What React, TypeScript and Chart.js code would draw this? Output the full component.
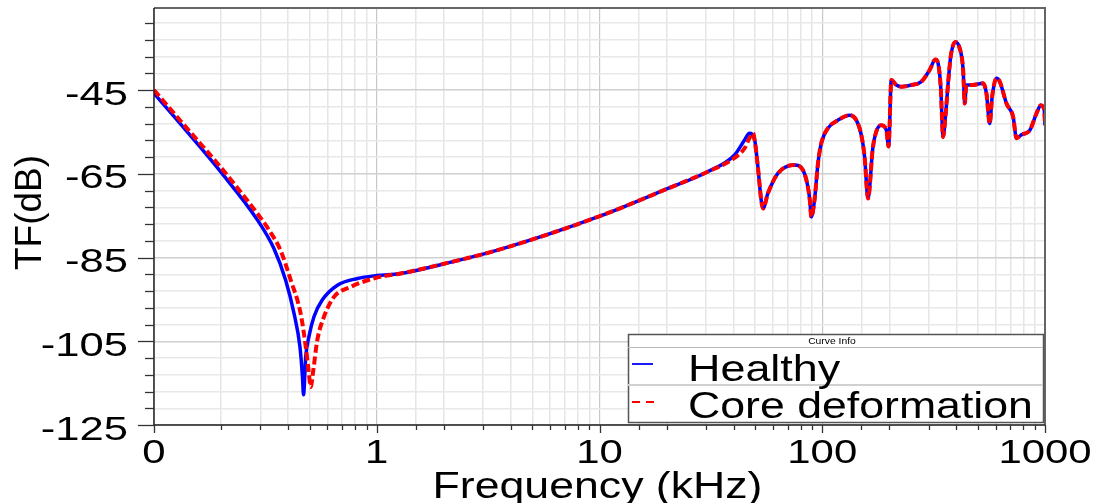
import React, { useEffect, useRef } from "react";
import { Chart, registerables } from "chart.js";

Chart.register(...registerables);

// ---------- data (frequency in kHz, transfer function in dB) ----------
const healthyStartFreq = [0.1, 0.141, 0.199, 0.291, 0.345, 0.39, 0.425, 0.452, 0.464, 0.469, 0.48, 0.496, 0.523, 0.57, 0.666, 0.819, 1.0, 1.28, 2.15, 3.61, 9.82, 20.3, 30.6, 40.4, 44.8, 47.1];
const healthyStartDb = [-45.8, -55.0, -64.5, -76.0, -82.8, -90.4, -98.3, -106.3, -113.5, -117.8, -108.7, -103.9, -99.1, -95.1, -91.6, -90.0, -89.3, -88.8, -86.1, -83.0, -75.3, -68.5, -64.5, -60.5, -56.9, -55.3];

const coreStartFreq = [0.1, 0.141, 0.199, 0.291, 0.328, 0.37, 0.411, 0.455, 0.48, 0.496, 0.505, 0.519, 0.541, 0.58, 0.643, 0.764, 1.0, 1.28, 2.15, 3.61, 9.82, 20.3, 30.6, 40.4, 44.8, 47.1, 49.0];
const coreStartDb = [-45.0, -54.2, -63.4, -74.5, -78.4, -83.3, -90.4, -98.3, -106.3, -112.7, -115.9, -111.9, -104.7, -99.1, -94.4, -92.0, -89.8, -88.8, -86.1, -83.0, -75.3, -68.5, -64.5, -61.2, -58.9, -56.5, -55.3];

// high-frequency part where both curves overlap
const commonFreq = [49.7, 51.4, 53.2, 54.2, 57.0, 63.2, 75.1, 81.9, 86.2, 88.0, 89.3, 92.3, 95.7, 99.0, 106.1, 117.6, 132.7, 142.2, 149.7, 154.9, 160.5, 169.0, 184.2, 194.0, 198.6, 204.2, 215.1, 226.5, 251.2, 278.6, 303.5, 322.1, 331.1, 340.2, 348.8, 357.2, 367.3, 377.3, 396.0, 414.0, 429.0, 436.1, 443.7, 467.7, 527.6, 545.8, 564.9, 579.1, 605.3, 626.5, 671.4, 719.5, 744.6, 783.7, 854.6, 915.5, 957.5, 992.2, 1000];
const commonDb = [-56.9, -63.3, -71.3, -73.3, -69.7, -64.9, -62.9, -64.1, -68.1, -71.5, -75.3, -71.3, -62.5, -57.7, -54.1, -52.2, -51.0, -52.2, -55.7, -60.9, -70.9, -58.5, -53.4, -54.6, -58.5, -42.6, -43.8, -44.2, -43.8, -43.0, -40.2, -37.7, -38.6, -44.2, -56.2, -51.4, -43.4, -37.0, -33.5, -35.0, -40.2, -48.2, -43.8, -43.8, -43.4, -45.8, -53.0, -46.6, -42.2, -43.0, -48.2, -51.4, -56.5, -55.7, -54.6, -50.6, -48.6, -49.8, -53.4];

const seriesNames = ["Healthy", "Core deformation"];
const xTickValues = [0.1, 1, 10, 100, 1000];
const xTickLabels = ["0", "1", "10", "100", "1000"];
const yTickValues = [-125, -105, -85, -65, -45];
const yTickLabels = ["-125", "-105", "-85", "-65", "-45"];
const yMinorStep = 4;
const Y_MIN = -125;
const Y_MAX = -25.4;
const X_MIN = 0.1;
const X_MAX = 1000;

const FONT = '"Liberation Sans", Arial, sans-serif';

const yGridValues: number[] = [];
for (let v = Y_MIN; v < Y_MAX; v += yMinorStep) yGridValues.push(v);

function toPoints(f: number[], d: number[]) {
  return f.map((x, i) => ({ x, y: d[i] }));
}

function isDecade(v: number) {
  const l = Math.log10(v);
  return Math.abs(l - Math.round(l)) < 1e-6;
}

function drawText(ctx: CanvasRenderingContext2D, text: string, x: number, y: number, size: number, align: CanvasTextAlign, sx: number) {
  ctx.save();
  ctx.translate(x, y);
  ctx.scale(sx, 1);
  ctx.font = `${size}px ${FONT}`;
  ctx.textAlign = align;
  ctx.textBaseline = "alphabetic";
  ctx.fillStyle = "#000";
  ctx.fillText(text, 0, 0);
  ctx.restore();
}

const decorPlugin = {
  id: "decor",
  afterDraw(chart: any) {
    const ctx: CanvasRenderingContext2D = chart.ctx;
    const { left, right, top, bottom } = chart.chartArea;
    const xs = chart.scales.x;
    const ys = chart.scales.y;

    ctx.save();
    // plot frame
    ctx.lineWidth = 2;
    ctx.strokeStyle = "#666";
    ctx.beginPath();
    ctx.moveTo(left, top);
    ctx.lineTo(right, top);
    ctx.lineTo(right, bottom);
    ctx.stroke();
    ctx.lineWidth = 1.5;
    ctx.strokeStyle = "#222";
    ctx.beginPath();
    ctx.moveTo(left, top);
    ctx.lineTo(left, bottom);
    ctx.lineTo(right, bottom);
    ctx.stroke();

    // y tick marks
    ctx.lineWidth = 1.3;
    ctx.strokeStyle = "#333";
    yGridValues.forEach((v) => {
      const y = Math.round(ys.getPixelForValue(v)) + 0.5;
      const major = yTickValues.includes(v);
      ctx.beginPath();
      ctx.moveTo(left - (major ? 16 : 9), y);
      ctx.lineTo(left, y);
      ctx.stroke();
    });
    // x tick marks
    xs.ticks.forEach((t: any) => {
      const x = Math.round(xs.getPixelForValue(t.value)) + 0.5;
      const major = isDecade(t.value);
      ctx.beginPath();
      ctx.moveTo(x, bottom);
      ctx.lineTo(x, bottom + (major ? 8 : 5));
      ctx.stroke();
    });

    // y tick labels
    yTickValues.forEach((v, i) => {
      const y = ys.getPixelForValue(v);
      drawText(ctx, yTickLabels[i], left - 26, y + 14.5, 33.5, "right", 1.3);
    });
    // x tick labels
    xTickValues.forEach((v, i) => {
      const x = xs.getPixelForValue(v);
      drawText(ctx, xTickLabels[i], x, bottom + 38, 33.5, "center", 1.25);
    });

    // axis titles
    drawText(ctx, "Frequency (kHz)", 597.5, 497.5, 36, "center", 1.24);
    ctx.save();
    ctx.translate(41, 212.5);
    ctx.rotate(-Math.PI / 2);
    ctx.font = `37px ${FONT}`;
    ctx.textAlign = "center";
    ctx.textBaseline = "alphabetic";
    ctx.fillStyle = "#000";
    ctx.fillText("TF(dB)", 0, 0);
    ctx.restore();

    // legend box ("Curve Info")
    const lx = 628, ly = 334, lw = 415, lh = 88;
    ctx.fillStyle = "#fff";
    ctx.fillRect(lx, ly, lw, lh);
    ctx.lineWidth = 1.5;
    ctx.strokeStyle = "#555";
    ctx.strokeRect(lx + 0.5, ly + 0.5, lw, lh);
    ctx.lineWidth = 1;
    ctx.strokeStyle = "#bbb";
    ctx.beginPath();
    ctx.moveTo(lx, 347.5);
    ctx.lineTo(lx + lw, 347.5);
    ctx.stroke();
    ctx.lineWidth = 2;
    ctx.strokeStyle = "#d0d0d0";
    ctx.beginPath();
    ctx.moveTo(lx, 385);
    ctx.lineTo(lx + lw, 385);
    ctx.stroke();
    drawText(ctx, "Curve Info", 832, 343.5, 9, "center", 1.15);

    ctx.lineWidth = 1.8;
    ctx.strokeStyle = "#0000ff";
    ctx.beginPath();
    ctx.moveTo(632, 364);
    ctx.lineTo(653, 364);
    ctx.stroke();
    ctx.strokeStyle = "#ff0000";
    ctx.setLineDash([8, 6]);
    ctx.beginPath();
    ctx.moveTo(632, 402);
    ctx.lineTo(654, 402);
    ctx.stroke();
    ctx.setLineDash([]);

    drawText(ctx, seriesNames[0], 688, 381, 36.5, "left", 1.23);
    drawText(ctx, seriesNames[1], 688, 417.5, 36, "left", 1.24);
    ctx.restore();
  },
};

export default function App() {
  const canvasRef = useRef<HTMLCanvasElement | null>(null);

  useEffect(() => {
    const canvas = canvasRef.current;
    if (!canvas) return;
    const healthy = [...toPoints(healthyStartFreq, healthyStartDb), ...toPoints(commonFreq, commonDb)];
    const core = [...toPoints(coreStartFreq, coreStartDb), ...toPoints(commonFreq, commonDb)];

    const chart = new Chart(canvas, {
      type: "line",
      data: {
        datasets: [
          {
            label: seriesNames[1],
            data: core,
            borderColor: "#ff0000",
            borderWidth: 4,
            borderDash: [8, 3.5],
            pointRadius: 0,
            fill: false,
            cubicInterpolationMode: "monotone",
            order: 0,
          },
          {
            label: seriesNames[0],
            data: healthy,
            borderColor: "#0000ff",
            borderWidth: 3.5,
            pointRadius: 0,
            fill: false,
            cubicInterpolationMode: "monotone",
            order: 1,
          },
        ],
      },
      options: {
        animation: false,
        responsive: false,
        devicePixelRatio: 1,
        parsing: true,
        layout: { padding: { left: 154, right: 56, top: 8, bottom: 78 } },
        plugins: { legend: { display: false }, tooltip: { enabled: false }, title: { display: false } },
        scales: {
          x: {
            type: "logarithmic",
            min: X_MIN,
            max: X_MAX,
            border: { display: false },
            ticks: { display: false },
            grid: {
              drawTicks: false,
              color: (c: any) => (c.tick && isDecade(c.tick.value) ? "#c8c8c8" : "#e6e6e6"),
              lineWidth: (c: any) => (c.tick && isDecade(c.tick.value) ? 1.2 : 1.5),
            },
          },
          y: {
            type: "linear",
            min: Y_MIN,
            max: Y_MAX,
            border: { display: false },
            ticks: { display: false },
            afterBuildTicks: (scale: any) => {
              scale.ticks = yGridValues.map((v) => ({ value: v }));
            },
            grid: {
              drawTicks: false,
              color: (c: any) => (c.tick && yTickValues.includes(c.tick.value) ? "#d0d0d0" : "#e8e8e8"),
              lineWidth: 1.5,
            },
          },
        },
      },
      plugins: [decorPlugin],
    } as any);

    return () => chart.destroy();
  }, []);

  return (
    <div style={{ position: "absolute", left: 0, top: 0, width: 1101, height: 503, background: "#fff" }}>
      <canvas ref={canvasRef} width={1101} height={503} style={{ display: "block" }} />
    </div>
  );
}
